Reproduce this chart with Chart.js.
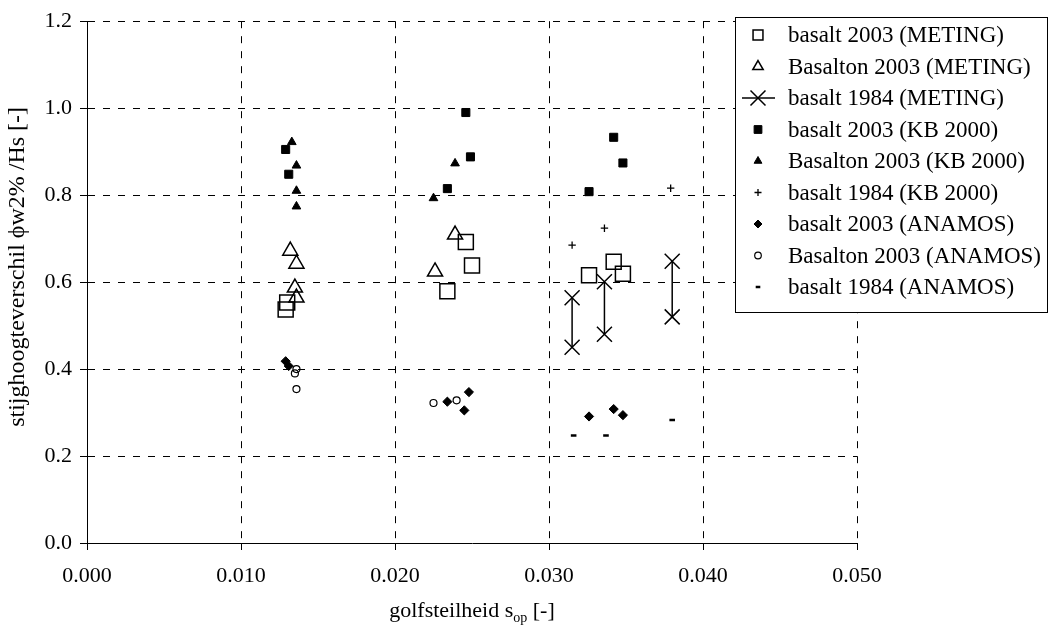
<!DOCTYPE html>
<html>
<head>
<meta charset="utf-8">
<script src="https://cdn.jsdelivr.net/npm/chart.js@4.4.0/dist/chart.umd.min.js"></script>
<style>
  html, body { margin: 0; padding: 0; background: #fff; }
  #wrap { width: 1051px; height: 635px; }
</style>
</head>
<body>
<div id="wrap"><canvas id="grafica" width="1051" height="635"></canvas></div>
<script>
// golfsteilheid (x) en stijghoogteverschil (y) per reeks
const metingBasalt2003X   = [0.0129, 0.0130, 0.0234, 0.0246, 0.0250, 0.0326, 0.0342, 0.0348];
const metingBasalt2003Y   = [0.537, 0.553, 0.579, 0.692, 0.638, 0.616, 0.647, 0.619];
const metingBasalton2003X = [0.0132, 0.0136, 0.0135, 0.0136, 0.0226, 0.0239];
const metingBasalton2003Y = [0.672, 0.642, 0.587, 0.564, 0.624, 0.709];
// paren (hoog/laag) met een lege regel ertussen
const metingBasalt1984X   = [0.0315, 0.0315, null, 0.0336, 0.0336, null, 0.0380, 0.0380];
const metingBasalt1984Y   = [0.564, 0.450, null, 0.601, 0.480, null, 0.648, 0.520];

const kbBasalt2003X   = [0.0129, 0.0131, 0.0234, 0.0246, 0.0249, 0.0326, 0.0342, 0.0348];
const kbBasalt2003Y   = [0.905, 0.848, 0.815, 0.990, 0.888, 0.808, 0.933, 0.874];
const kbBasalton2003X = [0.0133, 0.0136, 0.0136, 0.0136, 0.0225, 0.0239];
const kbBasalton2003Y = [0.922, 0.868, 0.810, 0.774, 0.793, 0.873];
const kbBasalt1984X   = [0.0315, 0.0336, 0.0379];
const kbBasalt1984Y   = [0.685, 0.724, 0.816];

const anBasalt2003X   = [0.0129, 0.0131, 0.0234, 0.0245, 0.0248, 0.0326, 0.0342, 0.0348];
const anBasalt2003Y   = [0.418, 0.407, 0.325, 0.305, 0.347, 0.291, 0.308, 0.294];
const anBasalton2003X = [0.0136, 0.0135, 0.0136, 0.0225, 0.0240];
const anBasalton2003Y = [0.400, 0.390, 0.354, 0.322, 0.328];
const anBasalt1984X   = [0.0316, 0.0337, 0.0380];
const anBasalt1984Y   = [0.247, 0.247, 0.283];

const xTicks = [0, 0.01, 0.02, 0.03, 0.04, 0.05];
const yTicks = [0, 0.2, 0.4, 0.6, 0.8, 1.0, 1.2];

const FONT = "'Liberation Serif', 'Times New Roman', serif";
const ZWART = '#000';
const LEEG = 'rgba(0,0,0,0)';

function punten(X, Y) {
  return X.map((xi, i) => ({ x: xi, y: Y[i] }));
}

function reeks(label, X, Y, stijl, r, open, lw, legR) {
  return {
    label: label,
    data: punten(X, Y),
    pointStyle: stijl,
    pointRadius: r,
    pointHoverRadius: r,
    pointBorderWidth: lw,
    pointBorderColor: ZWART,
    pointBackgroundColor: open ? LEEG : ZWART,
    borderColor: ZWART,
    backgroundColor: open ? LEEG : ZWART,
    showLine: false,
    legR: legR
  };
}

const datasets = [
  reeks('basalt 2003 (METING)', metingBasalt2003X, metingBasalt2003Y, 'rect', 10.6, true, 1.5, 7),
  reeks('Basalton 2003 (METING)', metingBasalton2003X, metingBasalton2003Y, 'triangle', 8.7, true, 1.5, 6),
  Object.assign(reeks('basalt 1984 (METING)', metingBasalt1984X, metingBasalt1984Y, 'crossRot', 10.6, true, 1.5, 10.6),
    { showLine: true, borderWidth: 1.5, spanGaps: false }),
  reeks('basalt 2003 (KB 2000)', kbBasalt2003X, kbBasalt2003Y, 'rect', 5.7, false, 1, 5.5),
  reeks('Basalton 2003 (KB 2000)', kbBasalton2003X, kbBasalton2003Y, 'triangle', 5, false, 1, 4.5),
  reeks('basalt 1984 (KB 2000)', kbBasalt1984X, kbBasalt1984Y, 'cross', 3.7, true, 1.3, 3.5),
  reeks('basalt 2003 (ANAMOS)', anBasalt2003X, anBasalt2003Y, 'rectRot', 4.6, false, 1, 4),
  reeks('Basalton 2003 (ANAMOS)', anBasalton2003X, anBasalton2003Y, 'circle', 3.5, true, 1.2, 3.3),
  reeks('basalt 1984 (ANAMOS)', anBasalt1984X, anBasalt1984Y, 'line', 2.8, true, 2.5, 2.3)
];

// legenda met kader, deels over het plotvlak
const legendaPlugin = {
  id: 'legenda',
  afterDraw(chart) {
    const ctx = chart.ctx;
    const bx = 735, by = 17, bw = 312, bh = 295;
    ctx.save();
    ctx.fillStyle = '#fff';
    ctx.fillRect(bx, by, bw, bh);
    ctx.strokeStyle = ZWART;
    ctx.lineWidth = 1;
    ctx.strokeRect(bx + 0.5, by + 0.5, bw, bh);
    ctx.font = '23px ' + FONT;
    ctx.textBaseline = 'middle';
    ctx.textAlign = 'left';
    chart.data.datasets.forEach((ds, i) => {
      const y = by + 18 + i * 31.5;
      const mx = 758;
      ctx.strokeStyle = ZWART;
      ctx.fillStyle = ds.pointBackgroundColor;
      ctx.lineWidth = ds.pointBorderWidth;
      if (ds.showLine) {
        ctx.beginPath();
        ctx.moveTo(742, y);
        ctx.lineTo(775, y);
        ctx.stroke();
      }
      Chart.helpers.drawPoint(ctx, {
        pointStyle: ds.pointStyle, rotation: 0, radius: ds.legR, borderWidth: ds.pointBorderWidth
      }, mx, y);
      ctx.fillStyle = ZWART;
      ctx.fillText(ds.label, 788, y + 1);
    });
    ctx.restore();
  }
};

// astitels: x met subscript, y gedraaid
const asTitelPlugin = {
  id: 'asTitel',
  afterDraw(chart) {
    const ctx = chart.ctx;
    const a = chart.chartArea;
    const cx = (a.left + a.right) / 2;
    const basis = 617;
    const t1 = 'golfsteilheid s', t2 = 'op', t3 = ' [-]';
    ctx.save();
    ctx.fillStyle = ZWART;
    ctx.textBaseline = 'alphabetic';
    ctx.textAlign = 'left';
    ctx.font = '22px ' + FONT;
    const w1 = ctx.measureText(t1).width, w3 = ctx.measureText(t3).width;
    ctx.font = '14px ' + FONT;
    const w2 = ctx.measureText(t2).width;
    let x = cx - (w1 + w2 + w3) / 2;
    ctx.font = '22px ' + FONT;
    ctx.fillText(t1, x, basis);
    x += w1;
    ctx.font = '14px ' + FONT;
    ctx.fillText(t2, x, basis + 5);
    x += w2;
    ctx.font = '22px ' + FONT;
    ctx.fillText(t3, x, basis);

    const yMid = chart.scales.y.getPixelForValue(0.635);
    ctx.translate(18, yMid);
    ctx.rotate(-Math.PI / 2);
    ctx.textAlign = 'center';
    ctx.textBaseline = 'middle';
    ctx.font = '24px ' + FONT;
    ctx.fillText('stijghoogteverschil ϕw2% /Hs [-]', 0, 0);
    ctx.restore();
  }
};

Chart.defaults.font.family = FONT;
Chart.defaults.font.size = 22;
Chart.defaults.color = ZWART;

const ctx = document.getElementById('grafica').getContext('2d');
const chart = new Chart(ctx, {
  type: 'scatter',
  data: { datasets: datasets },
  options: {
    responsive: false,
    animation: false,
    layout: { padding: { top: 19, right: 194, left: 0, bottom: 0 } },
    plugins: { legend: { display: false }, tooltip: { enabled: false } },
    scales: {
      x: {
        type: 'linear',
        min: 0, max: 0.05,
        afterBuildTicks: s => { s.ticks = xTicks.map(v => ({ value: v })); },
        afterFit: s => { s.height = 92; },
        ticks: { callback: v => v.toFixed(3), padding: 13, color: ZWART, font: { size: 22 } },
        grid: { color: ZWART, lineWidth: 1, tickLength: 7, tickColor: ZWART, tickBorderDash: [] },
        border: { display: true, color: ZWART, width: 1, dash: [7, 8] }
      },
      y: {
        type: 'linear',
        min: 0, max: 1.2,
        afterBuildTicks: s => { s.ticks = yTicks.map(v => ({ value: v })); },
        afterFit: s => { s.width = 87; },
        ticks: { callback: v => v.toFixed(1), padding: 8, color: ZWART, font: { size: 22 } },
        grid: { color: ZWART, lineWidth: 1, tickLength: 7, tickColor: ZWART, tickBorderDash: [] },
        border: { display: true, color: ZWART, width: 1, dash: [7, 8] }
      }
    }
  },
  plugins: [legendaPlugin, asTitelPlugin]
});
</script>
</body>
</html>
